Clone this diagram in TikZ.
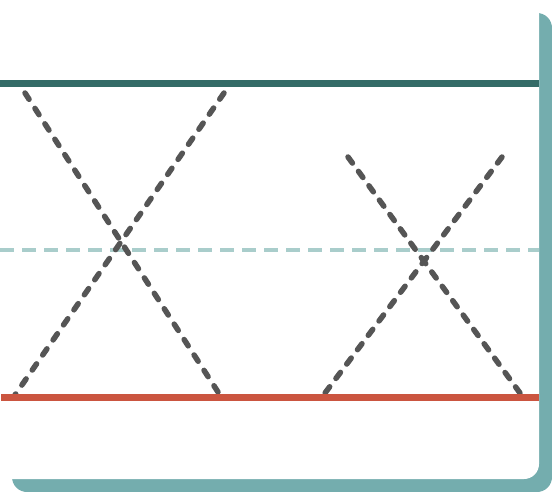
\documentclass[tikz,border=0pt]{standalone}
\usetikzlibrary{calc}
\definecolor{shadowteal}{HTML}{74ADAE}
\definecolor{topteal}{HTML}{346B67}
\definecolor{redline}{HTML}{CB5540}
\definecolor{graydash}{HTML}{555555}
\definecolor{lightdash}{HTML}{A9CDCB}
\tikzset{
  crossline/.style={draw=graydash, line width=5.5pt, line cap=round, dash pattern=on 7.5pt off #1},
  midline/.style={draw=lightdash, line width=3.5pt, dash pattern=on 14pt off 8pt},
  ruleline/.style={line width=7pt},
}
\begin{document}
\begin{tikzpicture}[x=1pt,y=-1pt]
\useasboundingbox (0,0) rectangle (552,492);
\fill[white] (0,0) rectangle (552,492);
% card shadow and card
\fill[shadowteal, rounded corners=15pt] (12,13) rectangle (552,492);
\fill[white, rounded corners=15pt] (-20,-20) rectangle (539,479);
% coordinates
\coordinate (tl) at (0,83.5);
\coordinate (tr) at (539,83.5);
\coordinate (ml) at (0,250);
\coordinate (mr) at (539,250);
\coordinate (bl) at (1,397);
\coordinate (br) at (539,397);
\coordinate (a1) at (25,93);
\coordinate (a2) at (218,392);
\coordinate (b1) at (224,93);
\coordinate (b2) at (15,395);
\coordinate (c1) at (348,157);
\coordinate (c2) at (520,393);
\coordinate (d1) at (502,157);
\coordinate (d2) at (325,393);
% lines
\draw[ruleline, draw=topteal] (tl) -- (tr);
\draw[midline] (ml) -- (mr);
\draw[crossline=10.84pt] (a1) -- (a2);
\draw[crossline=10.8pt] (b1) -- (b2);
\draw[crossline=10.28pt] (c1) -- (c2);
\draw[crossline=10.45pt] (d1) -- (d2);
\draw[ruleline, draw=redline] (bl) -- (br);
\end{tikzpicture}
\end{document}
